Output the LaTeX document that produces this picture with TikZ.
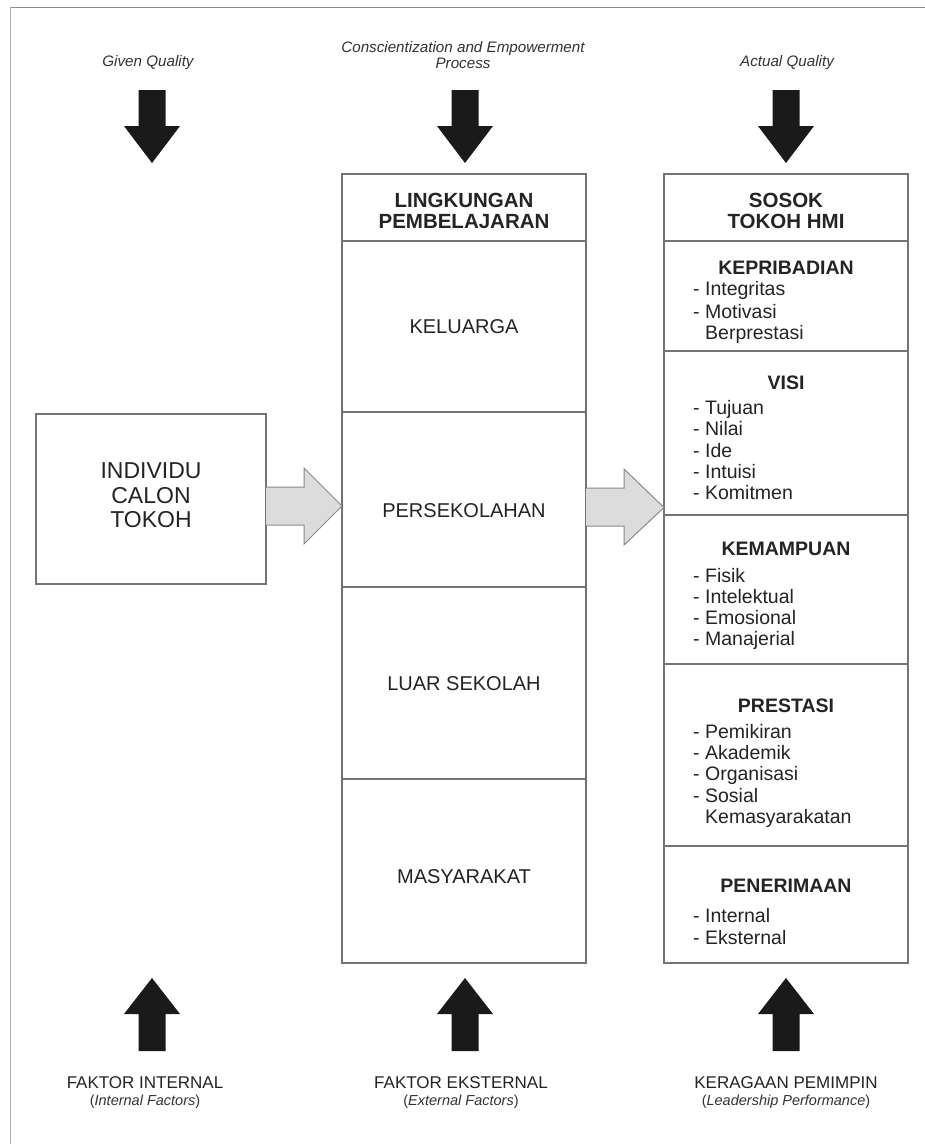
\documentclass[tikz,border=0pt]{standalone}
\usepackage{fontspec}
\setmainfont{Liberation Sans}
\usetikzlibrary{calc}
\definecolor{boxline}{HTML}{747474}
\definecolor{txt}{HTML}{242424}
\definecolor{itxt}{HTML}{333333}
\definecolor{arrowfill}{HTML}{DDDCDC}
\definecolor{arrowline}{HTML}{8A8A8A}
\definecolor{blk}{HTML}{1A1A1A}
\definecolor{framecol}{HTML}{8C8C8C}
\begin{document}
\begin{tikzpicture}[x=1pt,y=-1pt,
  sect/.style={draw=boxline,line width=1.2pt,inner sep=0pt,outer sep=0pt,anchor=north west,rectangle,minimum width=244pt},
  midtxt/.style={text=txt,inner sep=0pt,anchor=base,font=\fontsize{20}{22}\selectfont},
  hdtxt/.style={text=txt,inner sep=0pt,anchor=base,font=\fontsize{20.5}{22}\selectfont\bfseries},
  sechd/.style={text=txt,inner sep=0pt,anchor=base,font=\fontsize{19.5}{21}\selectfont\bfseries},
  item/.style={text=txt,inner sep=0pt,anchor=base west,font=\fontsize{19.5}{21}\selectfont},
  toplbl/.style={text=itxt,inner sep=0pt,anchor=base,font=\fontsize{15.2}{17}\selectfont\itshape},
  botlbl/.style={text=txt,inner sep=0pt,anchor=base,font=\fontsize{17}{19}\selectfont},
  botsub/.style={text=itxt,inner sep=0pt,anchor=base,font=\fontsize{14.5}{16}\selectfont},
  garrow/.style={draw=arrowline,fill=arrowfill,line width=1pt,line join=miter},
  darr/.pic={\fill[blk] (-13.5,0) -- (13.5,0) -- (13.5,36) -- (28,36) -- (0,73) -- (-28,36) -- (-13.5,36) -- cycle;},
  uarr/.pic={\fill[blk] (0,0) -- (28,36) -- (13.5,36) -- (13.5,73) -- (-13.5,73) -- (-13.5,36) -- (-28,36) -- cycle;}
]
\useasboundingbox (0,0) rectangle (925,1144);
\fill[white] (0,0) rectangle (925,1144);
% frame lines
\draw[framecol,line width=1pt] (10,7) -- (925,7);
\draw[framecol!70,line width=1pt] (10,7) -- (10,1144);

% top labels
\node[toplbl] (lgiven) at (148,66.5) {Given Quality};
\node[toplbl] (lcons1) at (463,52.5) {Conscientization and Empowerment};
\node[toplbl] (lcons2) at (463,68.5) {Process};
\node[toplbl] (lactual) at (787,66.5) {Actual Quality};

% top black arrows
\pic at (152,90) {darr};
\pic at (465,90) {darr};
\pic at (786,90) {darr};

% left box
\node[sect,minimum width=230pt,minimum height=170pt] (indiv) at (36,414) {};
\node[text=txt,inner sep=0pt,anchor=base,font=\fontsize{23}{25}\selectfont] (ind1) at (151,478) {INDIVIDU};
\node[text=txt,inner sep=0pt,anchor=base,font=\fontsize{23}{25}\selectfont] (ind2) at (151,503) {CALON};
\node[text=txt,inner sep=0pt,anchor=base,font=\fontsize{23}{25}\selectfont] (ind3) at (151,527) {TOKOH};

% middle box
\node[sect,minimum height=67pt] (mhead) at (342,174) {};
\node[sect,minimum height=171pt] (mkel) at (342,241) {};
\node[sect,minimum height=175pt] (mpers) at (342,412) {};
\node[sect,minimum height=192pt] (mluar) at (342,587) {};
\node[sect,minimum height=184pt] (mmas) at (342,779) {};
\node[hdtxt] (tling) at (464,207) {LINGKUNGAN};
\node[hdtxt] (tpemb) at (464,228) {PEMBELAJARAN};
\node[midtxt] (tkel) at (464,333) {KELUARGA};
\node[midtxt] (tpers) at (464,517) {PERSEKOLAHAN};
\node[midtxt] (tluar) at (464,690) {LUAR SEKOLAH};
\node[midtxt] (tmas) at (464,883) {MASYARAKAT};

% right box
\node[sect,minimum height=67pt] (rhead) at (664,174) {};
\node[sect,minimum height=110pt] (rkep) at (664,241) {};
\node[sect,minimum height=164pt] (rvis) at (664,351) {};
\node[sect,minimum height=149pt] (rkem) at (664,515) {};
\node[sect,minimum height=182pt] (rpre) at (664,664) {};
\node[sect,minimum height=117pt] (rpen) at (664,846) {};
\node[hdtxt] (tsos) at (786,207) {SOSOK};
\node[hdtxt] (ttok) at (786,228) {TOKOH HMI};

\node[sechd] (hkep) at (786,274) {KEPRIBADIAN};
\node[item] (i11) at (693,295) {- Integritas};
\node[item] (i12) at (693,318) {- Motivasi};
\node[item] (i13) at (705,339) {Berprestasi};

\node[sechd] (hvis) at (786,389) {VISI};
\node[item] (i21) at (693,414) {- Tujuan};
\node[item] (i22) at (693,435.5) {- Nilai};
\node[item] (i23) at (693,457) {- Ide};
\node[item] (i24) at (693,478) {- Intuisi};
\node[item] (i25) at (693,499) {- Komitmen};

\node[sechd] (hkem) at (786,555) {KEMAMPUAN};
\node[item] (i31) at (693,582) {- Fisik};
\node[item] (i32) at (693,603) {- Intelektual};
\node[item] (i33) at (693,624) {- Emosional};
\node[item] (i34) at (693,645) {- Manajerial};

\node[sechd] (hpre) at (786,712) {PRESTASI};
\node[item] (i41) at (693,738) {- Pemikiran};
\node[item] (i42) at (693,759) {- Akademik};
\node[item] (i43) at (693,780) {- Organisasi};
\node[item] (i44) at (693,802) {- Sosial};
\node[item] (i45) at (705,823) {Kemasyarakatan};

\node[sechd] (hpen) at (786,892) {PENERIMAAN};
\node[item] (i51) at (693,922) {- Internal};
\node[item] (i52) at (693,944) {- Eksternal};

% gray arrows
\draw[garrow] ($(indiv.east)+(0,-12)$) -- ($(indiv.east)+(38,-12)$) -- ($(indiv.east)+(38,-31)$)
  -- ($(mpers.west)+(0,6.5)$) -- ($(indiv.east)+(38,45)$) -- ($(indiv.east)+(38,26)$) -- ($(indiv.east)+(0,26)$);
\draw[garrow] ($(mpers.east)+(0,-11.5)$) -- ($(mpers.east)+(38,-11.5)$) -- ($(mpers.east)+(38,-30.5)$)
  -- ($(rvis.west)+(0,74.5)$) -- ($(mpers.east)+(38,45.5)$) -- ($(mpers.east)+(38,26.5)$) -- ($(mpers.east)+(0,26.5)$);

% bottom black arrows
\pic at (152,978) {uarr};
\pic at (465,978) {uarr};
\pic at (786,978) {uarr};

% bottom labels
\node[botlbl] (fint) at (145,1088) {FAKTOR INTERNAL};
\node[botsub] (fint2) at (145,1105) {(\textit{Internal Factors})};
\node[botlbl] (feks) at (461,1088) {FAKTOR EKSTERNAL};
\node[botsub] (feks2) at (461,1105) {(\textit{External Factors})};
\node[botlbl] (kera) at (786,1088) {KERAGAAN PEMIMPIN};
\node[botsub] (kera2) at (786,1105) {(\textit{Leadership Performance})};
\end{tikzpicture}
\end{document}
